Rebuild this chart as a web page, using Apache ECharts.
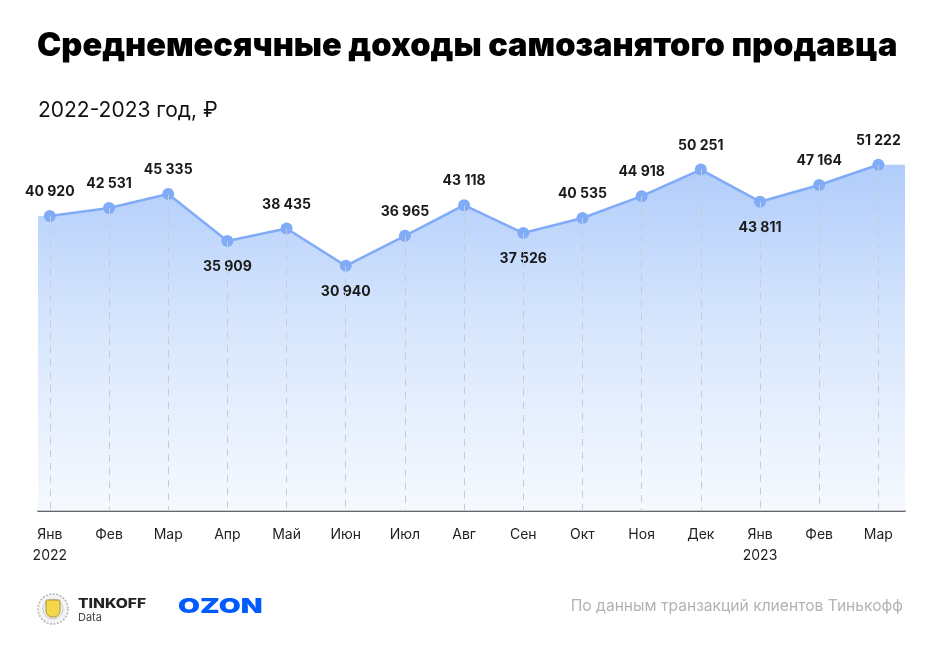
<!DOCTYPE html>
<html><head><meta charset="utf-8">
<script src="https://cdn.jsdelivr.net/npm/echarts@6/dist/echarts.min.js"></script>
<style>html,body{margin:0;padding:0;background:#fff}#c{width:940px;height:660px}</style>
</head><body><div id="c"></div>
<script>
const months = ['Янв','Фев','Мар','Апр','Май','Июн','Июл','Авг','Сен','Окт','Ноя','Дек','Янв','Фев','Мар'];
const years = {0:'2022', 12:'2023'};
const values = [40920,42531,45335,35909,38435,30940,36965,43118,37526,40535,44918,50251,43811,47164,51222];
const labelBelow = [3,5,8,12];

const fmt = v => String(v).replace(/\B(?=(\d{3})+(?!\d))/g, ' ');
const Y_MIN = -18250, Y_MAX = 60000;
const X_MIN = -0.2, X_MAX = 14.45;
const last = values.length - 1;

const pts = values.map((v,i) => ({
  value: [i, v],
  label: { position: labelBelow.includes(i) ? 'bottom' : 'top', distance: labelBelow.includes(i) ? 13 : 11 }
}));
const areaData = [[X_MIN, values[0]], ...values.map((v,i)=>[i,v]), [X_MAX, values[last]]];

const chart = echarts.init(document.getElementById('c'), null, {renderer:'canvas'});
chart.setOption({
  backgroundColor:'#fff',
  animation:false,
  title:[
    {text:'Среднемесячные доходы самозанятого продавца', left:32, top:25,
     textStyle:{fontFamily:'Inter', fontWeight:900, fontSize:32.6, color:'#000'}},
    {text:'2022-2023 год, ₽', left:33, top:95,
     textStyle:{fontFamily:'Inter', fontWeight:400, fontSize:21, color:'#111'}}
  ],
  grid:{left:38, right:35, top:121, bottom:149},
  xAxis:{type:'value', min:X_MIN, max:X_MAX, interval:1,
    axisLine:{show:true, onZero:false, lineStyle:{color:'#333', width:1.5}},
    axisTick:{show:false}, splitLine:{show:false},
    axisLabel:{
      customValues: months.map((m,i)=>i),
      formatter: v => { const i=Math.round(v); return months[i] + (years[i] ? '\n'+years[i] : ''); },
      fontFamily:'Inter', fontSize:14, color:'#222', lineHeight:21, margin:13
    }},
  yAxis:{type:'value', min:Y_MIN, max:Y_MAX, show:false, splitLine:{show:false}},
  series:[
    {type:'line', data:areaData, symbol:'none', silent:true,
     lineStyle:{width:0},
     areaStyle:{origin:'start', color:new echarts.graphic.LinearGradient(0,0,0,1,[
       {offset:0, color:'#8fb7f9'},{offset:0.45, color:'#c4dafc'},{offset:1, color:'#f2f7fe'}])},
     z:1},
    {type:'line', data:pts, symbol:'circle', symbolSize:12,
     itemStyle:{color:'#80abf6'}, lineStyle:{color:'#80abf6', width:2.5},
     label:{show:true, formatter: p => fmt(p.value[1]), fontFamily:'Inter', fontWeight:700, fontSize:14, color:'#1a1a1a'},
     markLine:{silent:true, symbol:'none', label:{show:false},
       lineStyle:{color:'#c5ccd6', type:[7,6], width:1},
       data: values.map((v,i)=>[{coord:[i,v]},{coord:[i,0], y:511}])},
     z:3}
  ],
  graphic:[
    {type:'circle', shape:{cx:53, cy:609, r:15}, style:{fill:'#f4f4f4', stroke:'#b5b5b5', lineWidth:1.5, lineDash:[2,1.5]}},
    {type:'circle', shape:{cx:53, cy:609, r:10}, style:{fill:'none', stroke:'#c8c8c8', lineWidth:1}},
    {type:'rect', shape:{x:46, y:600, width:14, height:17, r:[1,1,6,6]}, style:{fill:'#f3d64a', stroke:'#a8923a', lineWidth:1}},
    {type:'text', x:78, y:598, scaleX:1.2, style:{text:'TINKOFF', fontFamily:'Inter', fontWeight:800, fontSize:13, fill:'#222'}},
    {type:'text', x:78, y:612, style:{text:'Data', fontFamily:'Inter', fontSize:11, fill:'#444'}},
    {type:'text', x:178, y:597, scaleX:1.42, style:{text:'OZON', fontFamily:'Inter', fontWeight:900, fontSize:20, fill:'#005bff'}},
    {type:'text', right:37, top:598, style:{text:'По данным транзакций клиентов Тинькофф', fontFamily:'Inter', fontSize:15.6, fill:'#b3b3b3'}}
  ]
});
</script></body></html>
